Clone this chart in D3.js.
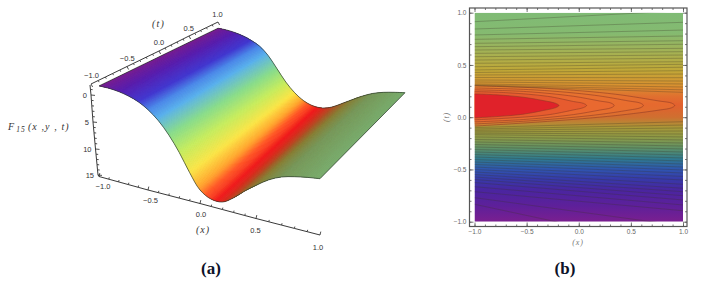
<!doctype html>
<html>
<head>
<meta charset="utf-8">
<title>F15 surface and contour</title>
<script src="https://cdn.jsdelivr.net/npm/d3@7"></script>
<style>
  html, body { margin: 0; padding: 0; background: #fff; overflow: hidden; }
  svg { display: block; }
  text { font-family: "Liberation Sans", sans-serif; }
  .tick3d { font-size: 7.5px; fill: #333; }
  .math { font-family: "Liberation Serif", serif; font-style: italic; }
  .caption { font-family: "Liberation Serif", serif; font-weight: bold; font-size: 17px; fill: #0c1228; }
</style>
</head>
<body>
<svg id="chart" width="703" height="282"></svg>
<script>

// ---- data ----

// (a) stations across the surface, with the height on its near and far edge
var stations = [-1, -0.9, -0.8, -0.7, -0.6, -0.5, -0.4, -0.3, -0.2, -0.1, 0, 0.1, 0.2, 0.3, 0.4, 0.5, 0.6, 0.7, 0.8, 0.9, 1];
var heightNear = [-1.9, -1.96, -1.85, -1.53, -0.95, 0.03, 1.59, 3.76, 6.52, 9.8, 12.56, 13.72, 13.69, 12.34, 10.5, 8.88, 7.2, 6.03, 5.34, 4.83, 4.44];
var heightFar = [-1.85, -1.98, -1.92, -1.68, -1.2, -0.45, 1.12, 3.47, 5.84, 7.63, 8.84, 9.42, 9.33, 8.58, 7.31, 6, 4.55, 3.32, 2.46, 1.83, 1.3];

var colorStopsA = [-1, -0.8, -0.6, -0.5, -0.42, -0.3, -0.2, -0.1, -0.02, 0.05, 0.15, 0.25, 0.35, 0.5, 0.7, 1];
var colorsA = ["#7b2090", "#5a1fae", "#4338d0", "#4a86e8", "#58b0ec", "#88dc88", "#c4ec5c", "#fbe444", "#ffa82c", "#ff5624", "#f01a1c", "#cc3a22", "#aa5a2a", "#8a8038", "#78985a", "#78ac6c"];

var ticks3d = [-1, -0.5, 0, 0.5, 1];
var ticksZ = [0, 5, 10, 15];

// (b) open contour lines: t where each one meets x = -1 and x = 1
var contourLeft = [0.914, 0.844, 0.787, 0.745, 0.707, 0.675, 0.643, 0.611, 0.579, 0.547, 0.516, 0.483, 0.452, 0.428, 0.404, 0.38, 0.356, 0.337, 0.318, 0.309, 0.304,
  -0.0995, -0.113, -0.126, -0.14, -0.153, -0.167, -0.189, -0.213, -0.237, -0.261, -0.285, -0.309, -0.333, -0.357, -0.381, -0.405, -0.429, -0.452, -0.477, -0.5, -0.524, -0.548, -0.572, -0.596, -0.625, -0.665, -0.713, -0.77, -0.833];
var contourRight = [1.019, 0.908, 0.834, 0.777, 0.732, 0.698, 0.659, 0.627, 0.595, 0.564, 0.531, 0.506, 0.478, 0.445, 0.413, 0.378, 0.346, 0.318, 0.289, 0.262, 0.238,
  -0.043, -0.075, -0.103, -0.132, -0.161, -0.189, -0.218, -0.247, -0.276, -0.304, -0.333, -0.362, -0.39, -0.419, -0.448, -0.477, -0.505, -0.534, -0.567, -0.601, -0.642, -0.68, -0.713, -0.751, -0.792, -0.84, -0.895, -1.041, -1.261];

// closed contours around the peak, outermost first, as [x, t]
var hairpins = [
  [[-1, 0.3], [-0.3, 0.275], [0.35, 0.22], [0.77, 0.155], [0.89, 0.135], [0.92, 0.112], [0.89, 0.09], [0.77, 0.068], [0.35, 0.015], [-0.3, -0.04], [-1, -0.085]],
  [[-1, 0.28], [-0.4, 0.26], [0.15, 0.21], [0.48, 0.155], [0.59, 0.135], [0.62, 0.112], [0.59, 0.09], [0.48, 0.068], [0.15, 0.02], [-0.4, -0.03], [-1, -0.065]],
  [[-1, 0.262], [-0.5, 0.245], [-0.05, 0.2], [0.2, 0.155], [0.31, 0.135], [0.34, 0.112], [0.31, 0.09], [0.2, 0.068], [-0.05, 0.025], [-0.5, -0.02], [-1, -0.045]],
  [[-1, 0.245], [-0.7, 0.235], [-0.3, 0.2], [-0.05, 0.15], [0.045, 0.132], [0.075, 0.112], [0.045, 0.092], [-0.05, 0.07], [-0.3, 0.022], [-0.7, -0.01], [-1, -0.025]],
  [[-1, 0.223], [-0.786, 0.214], [-0.531, 0.191], [-0.34, 0.159], [-0.22, 0.132], [-0.19, 0.112], [-0.22, 0.092], [-0.34, 0.064], [-0.531, 0.029], [-0.786, 0.006], [-1, -0.006]]
];
var hairpinColors = ["#ec7631", "#ea6f31", "#e96831", "#e65a30", "#e0222a"];
var hairpinOpacity = [0.45, 0.6, 0.75, 0.9, 1];

var colorStopsB = [-1, -0.85, -0.7, -0.6, -0.5, -0.4, -0.3, -0.2, -0.1, 0, 0.12, 0.2, 0.3, 0.45, 0.6, 0.8, 1];
var colorsB = ["#7a1f90", "#5e209a", "#4a25a0", "#3838a8", "#2f55b0", "#2f7a90", "#5d9068", "#8b9a48", "#a89838", "#cf6f30", "#e2602e", "#e0702f", "#d99030", "#c0a838", "#a8b050", "#85ba70", "#7fbb75"];

var ticksB = [-1, -0.5, 0, 0.5, 1];
var minorB = d3.range(-10, 11).map(function(d) { return d / 10; });

var svg = d3.select("#chart");

// ---- (a) surface ----

// polylinear scales stand in for the perspective of the original box
var frontX = d3.scaleLinear().domain(ticks3d).range([99, 148, 200, 256, 320]);
var frontY = d3.scaleLinear().domain(ticks3d).range([176, 189.5, 203, 218, 235]);
var backX = d3.scaleLinear().domain(ticks3d).range([218, 259.5, 303.5, 350.9, 405]);
var backY = d3.scaleLinear().domain(ticks3d).range([106.4, 117.8, 129.2, 141.9, 156.3]);
var nearHeight = d3.scaleLinear().domain(stations).range(heightNear);
var farHeight = d3.scaleLinear().domain(stations).range(heightFar);
var colorA = d3.scaleLinear().domain(colorStopsA).range(colorsA).interpolate(d3.interpolateRgb);

var nearPoint = function(u) { return [frontX(u), frontY(u) + (nearHeight(u) - 15) * 5.33]; };
var farPoint = function(u) { return [backX(u), backY(u) + (farHeight(u) - 15) * 4.64]; };

var smooth = d3.line().curve(d3.curveCatmullRom.alpha(0.5));
var nearPts = stations.map(nearPoint);
var farPts = stations.map(farPoint);
var outline = smooth(nearPts) + "L" + smooth(farPts.slice().reverse()).slice(1) + "Z";

svg.append("clipPath").attr("id", "surfaceClip").append("path").attr("d", outline);

var surface = svg.append("g").attr("clip-path", "url(#surfaceClip)");
var fine = d3.range(0, 401).map(function(i) { return -1 + i / 200; });

surface.selectAll("polygon")
  .data(d3.pairs(fine))
  .enter().append("polygon")
    .attr("points", function(d) {
      // strips overshoot both edges a little, the clip path trims them
      function stretch(u) {
        var a = nearPoint(u), b = farPoint(u);
        var dx = (b[0] - a[0]) * 0.04, dy = (b[1] - a[1]) * 0.04;
        return [[a[0] - dx, a[1] - dy], [b[0] + dx, b[1] + dy]];
      }
      var p = stretch(d[0]), q = stretch(d[1]);
      return [p[0], p[1], q[1], q[0]].join(" ");
    })
    .attr("fill", function(d) { return colorA(d[0]); })
    .attr("stroke", function(d) { return colorA(d[0]); })
    .attr("stroke-width", 0.7);

svg.append("path").attr("d", outline)
  .attr("fill", "none").attr("stroke", "#2c3a2c").attr("stroke-width", 0.7);

// ---- (a) box axes ----

var axis3d = svg.append("g");

var axisXx = frontX;
var axisXy = d3.scaleLinear().domain(ticks3d).range([176.5, 190, 203.5, 218.5, 235]);
var axisTx = d3.scaleLinear().domain(ticks3d).range([91, 127, 159, 189, 218]);
var axisTy = d3.scaleLinear().domain(ticks3d).range([84, 66.5, 51, 36, 22]);
var axisZx = d3.scaleLinear().domain([-1.8, 0, 5, 10, 15]).range([90, 91, 93, 95.5, 98]);
var axisZy = d3.scaleLinear().domain([-1.8, 0, 5, 10, 15]).range([85, 95, 122, 149, 175]);

function drawAxis3d(values, fx, fy, major, dx, dy) {
  axis3d.append("path")
    .attr("d", d3.line()(values.map(function(v) { return [fx(v), fy(v)]; })))
    .attr("fill", "none").attr("stroke", "#222").attr("stroke-width", 0.9);
  axis3d.append("g").selectAll("line")
    .data(values)
    .enter().append("line")
      .attr("x1", function(v) { return fx(v); })
      .attr("y1", function(v) { return fy(v); })
      .attr("x2", function(v) { return fx(v) + dx * (major.indexOf(v) >= 0 ? 1 : 0.55); })
      .attr("y2", function(v) { return fy(v) + dy * (major.indexOf(v) >= 0 ? 1 : 0.55); })
      .attr("stroke", "#222").attr("stroke-width", 0.8);
}

drawAxis3d(minorB, axisXx, axisXy, ticks3d, 0.8, -3.4);
drawAxis3d(minorB, axisTx, axisTy, ticks3d, 1.6, 3);
drawAxis3d(d3.range(-1, 16), axisZx, axisZy, ticksZ, 4, 0.4);
axis3d.append("line")
  .attr("x1", axisZx(-1.8)).attr("y1", axisZy(-1.8)).attr("x2", axisZx(-1)).attr("y2", axisZy(-1))
  .attr("stroke", "#222").attr("stroke-width", 0.9);
axis3d.append("line")
  .attr("x1", axisZx(15)).attr("y1", axisZy(15)).attr("x2", axisXx(-1)).attr("y2", axisXy(-1))
  .attr("stroke", "#222").attr("stroke-width", 0.9);

var fmt = d3.format(".1f");

axis3d.append("g").selectAll("text")
  .data(ticks3d)
  .enter().append("text").attr("class", "tick3d")
    .attr("text-anchor", "middle")
    .attr("x", function(v) { return axisXx(v) + 4 - (v + 1) * 3; })
    .attr("y", function(v) { return axisXy(v) + 12.5 + (v + 1) * 1.2; })
    .text(fmt);

axis3d.append("g").selectAll("text")
  .data(ticks3d)
  .enter().append("text").attr("class", "tick3d")
    .attr("text-anchor", "middle")
    .attr("x", function(v) { return axisTx(v) + 0.5 - (v + 1) * 0.5; })
    .attr("y", function(v) { return axisTy(v) - 6 + (v + 1) * 0.4; })
    .text(fmt);

axis3d.append("g").selectAll("text")
  .data(ticksZ)
  .enter().append("text").attr("class", "tick3d")
    .attr("text-anchor", "end")
    .attr("x", function(v) { return axisZx(v) - 4; })
    .attr("y", function(v) { return axisZy(v) + 3; })
    .text(function(v) { return v; });

svg.append("text").attr("class", "math").attr("x", 152).attr("y", 27)
  .attr("font-size", 10).attr("letter-spacing", 1.2).attr("fill", "#333").text("(t)");
svg.append("text").attr("class", "math").attr("x", 196).attr("y", 233)
  .attr("font-size", 10).attr("letter-spacing", 1).attr("fill", "#333").text("(x)");

var fLabel = svg.append("text").attr("class", "math").attr("x", 8).attr("y", 130)
  .attr("font-size", 10).attr("letter-spacing", 1.1).attr("fill", "#333");
fLabel.append("tspan").text("F");
fLabel.append("tspan").attr("font-size", 7.5).attr("dy", 1.5).attr("dx", 1).text("15");
fLabel.append("tspan").attr("dy", -1.5).attr("dx", 2).text("(x ,y , t)");

svg.append("text").attr("class", "caption").attr("x", 211).attr("y", 274).attr("text-anchor", "middle").text("(a)");

// ---- (b) contour plot ----

var xB = d3.scaleLinear().domain([-1, 1]).range([474.5, 683]);
var yB = d3.scaleLinear().domain([-1, 1]).range([221.7, 12.7]);
var colorB = d3.scaleLinear().domain(colorStopsB).range(colorsB);

var grad = svg.append("defs").append("linearGradient").attr("id", "bandFill")
  .attr("x1", 0).attr("x2", 0).attr("y1", 1).attr("y2", 0);
grad.selectAll("stop")
  .data(colorStopsB)
  .enter().append("stop")
    .attr("offset", function(d) { return (d + 1) / 2; })
    .attr("stop-color", function(d) { return colorB(d); });

svg.append("clipPath").attr("id", "plotClip").append("rect")
  .attr("x", xB(-1)).attr("y", yB(1)).attr("width", xB(1) - xB(-1)).attr("height", yB(-1) - yB(1));

var plot = svg.append("g").attr("clip-path", "url(#plotClip)");

plot.append("rect")
  .attr("x", xB(-1)).attr("y", yB(1)).attr("width", xB(1) - xB(-1)).attr("height", yB(-1) - yB(1))
  .attr("fill", "url(#bandFill)");

var contourPath = d3.line()
  .x(function(d) { return xB(d[0]); })
  .y(function(d) { return yB(d[1]); })
  .curve(d3.curveCatmullRom.alpha(0.5));

plot.selectAll("path.hairpin")
  .data(hairpins)
  .enter().append("path").attr("class", "hairpin")
    .attr("d", contourPath)
    .attr("fill", function(d, i) { return hairpinColors[i]; })
    .attr("fill-opacity", function(d, i) { return hairpinOpacity[i]; })
    .attr("stroke", "#8c3a26").attr("stroke-width", 0.8).attr("stroke-opacity", 0.7);

plot.selectAll("line.contour")
  .data(contourLeft)
  .enter().append("line").attr("class", "contour")
    .attr("x1", xB(-1)).attr("x2", xB(1))
    .attr("y1", function(d) { return yB(d); })
    .attr("y2", function(d, i) { return yB(contourRight[i]); })
    .attr("stroke", "#3a3428").attr("stroke-width", 0.8).attr("stroke-opacity", 0.36);

function styleFrameAxis(g, showLabels) {
  g.select(".domain").remove();
  g.selectAll("line").attr("stroke", "#555").attr("stroke-width", 0.8);
  g.selectAll("text").attr("font-size", 6.5).attr("fill", "#666");
  if (!showLabels) g.selectAll("text").remove();
}

var bTop = 8, bBottom = 226.5, bLeft = 469.5, bRight = 687;

[[d3.axisBottom(xB), 0, bBottom, true], [d3.axisTop(xB), 0, bTop, false],
 [d3.axisLeft(yB), bLeft, 0, true], [d3.axisRight(yB), bRight, 0, false]].forEach(function(s) {
  var minor = s[0].tickValues(minorB).tickFormat("").tickSizeInner(-2).tickSizeOuter(0);
  styleFrameAxis(svg.append("g").attr("transform", "translate(" + s[1] + "," + s[2] + ")").call(minor), false);
  var major = s[0].tickValues(ticksB).tickFormat(d3.format(".1f")).tickSizeInner(-4).tickSizeOuter(0).tickPadding(3);
  styleFrameAxis(svg.append("g").attr("transform", "translate(" + s[1] + "," + s[2] + ")").call(major), s[3]);
});

svg.append("rect").attr("x", bLeft).attr("y", bTop).attr("width", bRight - bLeft).attr("height", bBottom - bTop)
  .attr("fill", "none").attr("stroke", "#555").attr("stroke-width", 1.2);

svg.append("text").attr("class", "math").attr("x", 578).attr("y", 245).attr("text-anchor", "middle")
  .attr("font-size", 8).attr("letter-spacing", 0.8).attr("fill", "#777").text("(x)");
svg.append("text").attr("class", "math")
  .attr("transform", "translate(449,117) rotate(-90)").attr("text-anchor", "middle")
  .attr("font-size", 8).attr("letter-spacing", 0.8).attr("fill", "#777").text("(t)");

svg.append("text").attr("class", "caption").attr("x", 565).attr("y", 274).attr("text-anchor", "middle").text("(b)");

</script>
</body>
</html>
